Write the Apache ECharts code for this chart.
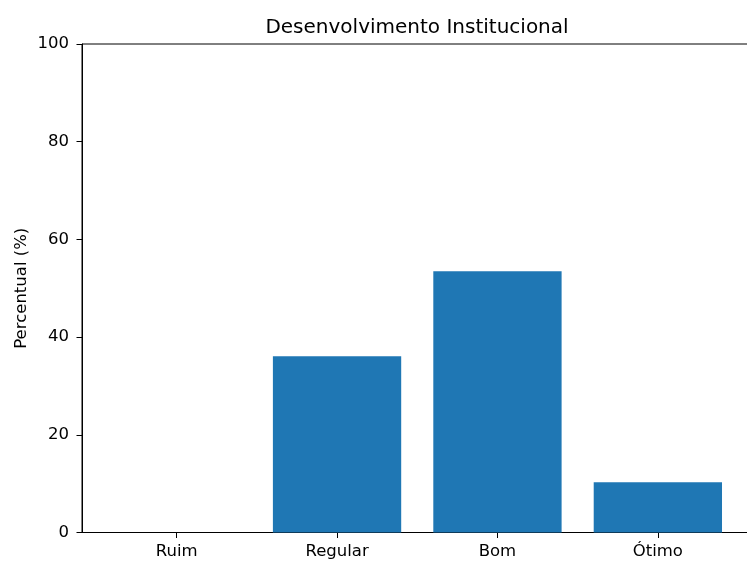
<!DOCTYPE html>
<html>
<head>
<meta charset="utf-8">
<script src="https://cdn.jsdelivr.net/npm/echarts@6/dist/echarts.min.js"></script>
<style>html,body{margin:0;padding:0;background:#fff}#c{width:747px;height:561px}</style>
</head>
<body>
<div id="c"></div>
<script>
const categories = ['Ruim', 'Regular', 'Bom', 'Ótimo'];
const values = [0, 36.1, 53.5, 10.3];
const yTicks = [0, 20, 40, 60, 80, 100];

const font = 'DejaVu Sans';
const chart = echarts.init(document.getElementById('c'), null, {renderer: 'canvas'});
chart.setOption({
  animation: false,
  title: {
    text: 'Desenvolvimento Institucional',
    left: 412, top: 13, textAlign: 'center',
    textStyle: {fontFamily: font, fontSize: 20, fontWeight: 'normal', color: '#000'}
  },
  grid: {
    left: 82, top: 44, width: 670.5, height: 488.5,
    outerBoundsMode: 'none', containLabel: false,
    show: true, borderColor: '#000', borderWidth: 1, backgroundColor: 'transparent'
  },
  xAxis: {
    type: 'value', min: -0.59, max: 3.59,
    axisLine: {show: true, onZero: false, lineStyle: {color: '#000', width: 1}},
    axisTick: {show: true, customValues: [0, 1, 2, 3], length: 5.5, lineStyle: {color: '#000'}},
    axisLabel: {
      customValues: [0, 1, 2, 3],
      formatter: v => categories[Math.round(v)],
      fontFamily: font, fontSize: 16.5, color: '#000', margin: 11
    },
    splitLine: {show: false}
  },
  yAxis: {
    type: 'value', min: yTicks[0], max: yTicks[yTicks.length - 1], interval: 20,
    name: 'Percentual (%)', nameLocation: 'middle', nameGap: 52, nameMoveOverlap: false,
    nameTextStyle: {fontFamily: font, fontSize: 16.5, color: '#000'},
    axisLine: {show: true, onZero: false, lineStyle: {color: '#000', width: 1}},
    axisTick: {show: true, length: 5.5, lineStyle: {color: '#000'}},
    axisLabel: {fontFamily: font, fontSize: 16.5, color: '#000', margin: 13},
    splitLine: {show: false}
  },
  series: [{
    type: 'bar',
    data: values.map((v, i) => [i, v]),
    barWidth: 128.3,
    itemStyle: {color: '#1f77b4'}
  }]
});
</script>
</body>
</html>
